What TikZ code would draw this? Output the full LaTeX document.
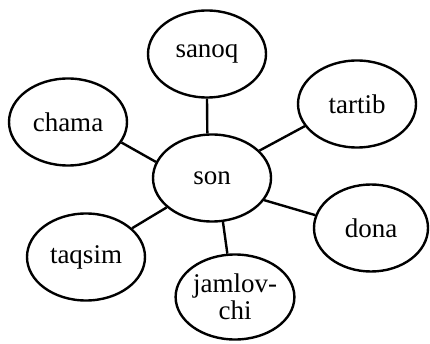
\documentclass[tikz,border=0pt]{standalone}
\usepackage{fontspec}
\setmainfont{Liberation Serif}
\usetikzlibrary{shapes.geometric}
\begin{document}
\begin{tikzpicture}[x=1pt,y=-1pt,
  bubble/.style={draw=black, line width=2.4pt, ellipse, inner sep=0pt,
    minimum width=118pt, minimum height=87pt,
    font=\fontsize{27}{27}\selectfont, align=center},
  link/.style={draw=black, line width=2.4pt}]
\useasboundingbox[fill=white] (0,0) rectangle (430,344);
\node[bubble] (son) at (212,178) {son};
\node[bubble] (sanoq) at (207,54) {sanoq};
\node[bubble] (chama) at (68,122) {chama};
\node[bubble] (tartib) at (357,104) {tartib};
\node[bubble, minimum width=114pt] (dona) at (371,228) {dona};
\node[bubble] (taqsim) at (86,257) {taqsim};
\node[bubble, minimum height=85pt] (jam) at (235,297) {jamlov-\\chi};
\draw[link] (sanoq.-90) -- (son.96);
\draw[link] (chama.-21) -- (son.164);
\draw[link] (tartib.-157) -- (son.30);
\draw[link] (taqsim.32) -- (son.213);
\draw[link] (dona.167) -- (son.-23);
\draw[link] (jam.100) -- (son.-76);
\end{tikzpicture}
\end{document}
